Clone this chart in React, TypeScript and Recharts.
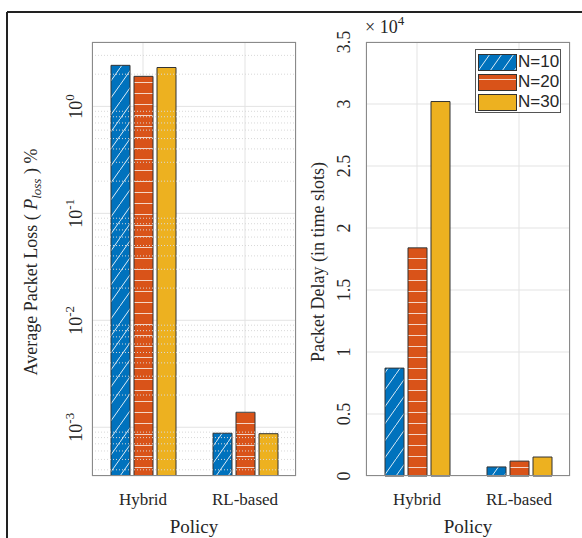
import React from 'react'
import {
    BarChart,
    Bar,
    XAxis,
    YAxis,
    CartesianGrid,
    ReferenceLine
} from 'recharts'

const categories = ['Hybrid', 'RL-based']
const seriesNames = ['N=10', 'N=20', 'N=30']

// average packet loss (%), log scale
const lossN10 = [2.42, 0.00088]
const lossN20 = [1.91, 0.00138]
const lossN30 = [2.31, 0.00087]

// packet delay in time slots
const delayN10 = [8700, 730]
const delayN20 = [18400, 1200]
const delayN30 = [30200, 1530]

const lossTicks = [0.001, 0.01, 0.1, 1]
const lossMinor = [
    0.0004, 0.0005, 0.0006, 0.0007, 0.0008, 0.0009,
    0.002, 0.003, 0.004, 0.005, 0.006, 0.007, 0.008, 0.009,
    0.02, 0.03, 0.04, 0.05, 0.06, 0.07, 0.08, 0.09,
    0.2, 0.3, 0.4, 0.5, 0.6, 0.7, 0.8, 0.9,
    2, 3
]
const delayTicks = [0, 5000, 10000, 15000, 20000, 25000, 30000, 35000]
const delayTickLabels = ['0', '0.5', '1', '1.5', '2', '2.5', '3', '3.5']

const lossData = categories.map((c, i) => ({
    policy: c,
    n10: lossN10[i],
    n20: lossN20[i],
    n30: lossN30[i]
}))
const delayData = categories.map((c, i) => ({
    policy: c,
    n10: delayN10[i],
    n20: delayN20[i],
    n30: delayN30[i]
}))

const BLUE = '#0072BD'
const ORANGE = '#D95319'
const YELLOW = '#EDB120'
const fills = ['url(#hatchBlue)', 'url(#hatchOrange)', YELLOW]
const keys = ['n10', 'n20', 'n30']
const serifStyle: React.CSSProperties = { fontFamily: 'Liberation Serif, Times New Roman, serif' }
const sans = 'Liberation Sans, Arial, sans-serif'

const Patterns = () => (
    <svg width={0} height={0} style={{ position: 'absolute' }}>
        <defs>
            <pattern id="hatchBlue" patternUnits="userSpaceOnUse" width={12} height={17}>
                <rect width={12} height={17} fill={BLUE} />
                <line x1={0} y1={17} x2={12} y2={0} stroke="#ffffff" strokeWidth={1} strokeOpacity={0.85} />
            </pattern>
            <pattern id="hatchOrange" patternUnits="userSpaceOnUse" width={12} height={11}>
                <rect width={12} height={11} fill={ORANGE} />
                <line x1={0} y1={5.5} x2={12} y2={5.5} stroke="#ffffff" strokeWidth={1} strokeOpacity={0.75} />
            </pattern>
        </defs>
    </svg>
)

const LogTick = (props: any) => {
    const { x, y, payload } = props
    const exp = Math.round(Math.log10(payload.value))
    return (
        <g transform={`translate(${x - 10},${y}) rotate(-90)`}>
            <text textAnchor="middle" style={serifStyle} fontSize={18} fill="#262626">
                10<tspan dy={-8} fontSize={13}>{exp}</tspan>
            </text>
        </g>
    )
}

const DelayTick = (props: any) => {
    const { x, y, index } = props
    return (
        <g transform={`translate(${x - 16},${y}) rotate(-90)`}>
            <text textAnchor="middle" style={serifStyle} fontSize={18} fill="#262626">
                {delayTickLabels[index]}
            </text>
        </g>
    )
}

const CatTick = (props: any) => {
    const { x, y, payload } = props
    return (
        <text x={x} y={y + 29} textAnchor="middle" style={serifStyle} fontSize={17} fill="#262626">
            {payload.value}
        </text>
    )
}

const plotBox = (left: number): React.CSSProperties => ({
    position: 'absolute',
    left,
    top: 42,
    width: 204,
    height: 434,
    border: '1px solid #8a8a8a',
    boxSizing: 'border-box',
    pointerEvents: 'none'
})

const Legend = () => (
    <div
        style={{
            position: 'absolute',
            left: 475,
            top: 49,
            width: 86,
            height: 64,
            border: '1px solid #555',
            boxSizing: 'border-box',
            background: '#fff',
            padding: '2px 0 0 2px'
        }}
    >
        {seriesNames.map((name, i) => (
            <div key={name} style={{ display: 'flex', alignItems: 'center', height: 20 }}>
                <svg width={39} height={17}>
                    <rect x={0.5} y={0.5} width={38} height={16} fill={fills[i]} stroke="#333" />
                </svg>
                <span style={{ fontFamily: sans, fontSize: 17, color: '#262626', marginLeft: 1 }}>
                    {name}
                </span>
            </div>
        ))}
    </div>
)

const policyLabel = {
    value: 'Policy',
    position: 'insideBottom',
    offset: 5,
    fontSize: 19,
    fill: '#262626',
    style: serifStyle
}

export default function App() {
    return (
        <div style={{ position: 'absolute', left: 0, top: 0, width: 582, height: 538, background: '#fff', overflow: 'hidden' }}>
            <Patterns />
            <div style={{ position: 'absolute', left: 0, top: 0 }}>
                <BarChart
                    width={300}
                    height={538}
                    data={lossData}
                    margin={{ top: 42, right: 4, bottom: 0, left: 0 }}
                    barSize={19}
                    barGap={4}
                >
                    <CartesianGrid stroke="#e3e3e3" />
                    {lossMinor.map((v) => (
                        <ReferenceLine key={v} y={v} stroke="#d8d8d8" strokeDasharray="1 2" />
                    ))}
                    <XAxis
                        dataKey="policy"
                        height={62}
                        axisLine={false}
                        tickLine={false}
                        tickSize={0}
                        tickMargin={0}
                        tick={<CatTick />}
                        label={policyLabel}
                    />
                    <YAxis
                        scale="log"
                        domain={[0.00035, 4]}
                        allowDataOverflow
                        ticks={lossTicks}
                        width={92}
                        axisLine={false}
                        tickLine={false}
                        tickSize={0}
                        tickMargin={0}
                        tick={<LogTick />}
                    />
                    {keys.map((k, i) => (
                        <Bar key={k} dataKey={k} name={seriesNames[i]} fill={fills[i]} stroke="#333" strokeWidth={1} isAnimationActive={false} />
                    ))}
                </BarChart>
            </div>
            <div style={{ position: 'absolute', left: 300, top: 0 }}>
                <BarChart
                    width={282}
                    height={538}
                    data={delayData}
                    margin={{ top: 42, right: 12, bottom: 0, left: 0 }}
                    barSize={19}
                    barGap={4}
                >
                    <CartesianGrid stroke="#e3e3e3" />
                    <XAxis
                        dataKey="policy"
                        height={62}
                        axisLine={false}
                        tickLine={false}
                        tickSize={0}
                        tickMargin={0}
                        tick={<CatTick />}
                        label={policyLabel}
                    />
                    <YAxis
                        domain={[0, 35000]}
                        ticks={delayTicks}
                        width={66}
                        axisLine={false}
                        tickLine={false}
                        tickSize={0}
                        tickMargin={0}
                        tick={<DelayTick />}
                    />
                    {keys.map((k, i) => (
                        <Bar key={k} dataKey={k} name={seriesNames[i]} fill={fills[i]} stroke="#333" strokeWidth={1} isAnimationActive={false} />
                    ))}
                </BarChart>
            </div>
            <div style={plotBox(92)} />
            <div style={plotBox(366)} />
            <svg width={582} height={538} style={{ position: 'absolute', left: 0, top: 0, pointerEvents: 'none' }}>
                <line x1={7} y1={12} x2={582} y2={12} stroke="#222" strokeWidth={2} />
                <line x1={7} y1={12} x2={7} y2={538} stroke="#222" strokeWidth={2} />
                <text transform="translate(37,262) rotate(-90)" textAnchor="middle" style={serifStyle} fontSize={18} fill="#262626">
                    Average Packet Loss (
                    <tspan fontStyle="italic"> P</tspan>
                    <tspan fontStyle="italic" fontSize={13} dy={4}>loss</tspan>
                    <tspan dy={-4}> ) %</tspan>
                </text>
                <text transform="translate(324,262) rotate(-90)" textAnchor="middle" style={serifStyle} fontSize={18} fill="#262626">
                    Packet Delay (in time slots)
                </text>
                <text x={365} y={33} style={serifStyle} fontSize={18} fill="#262626">
                    × 10<tspan dy={-8} fontSize={13}>4</tspan>
                </text>
            </svg>
            <Legend />
        </div>
    )
}
